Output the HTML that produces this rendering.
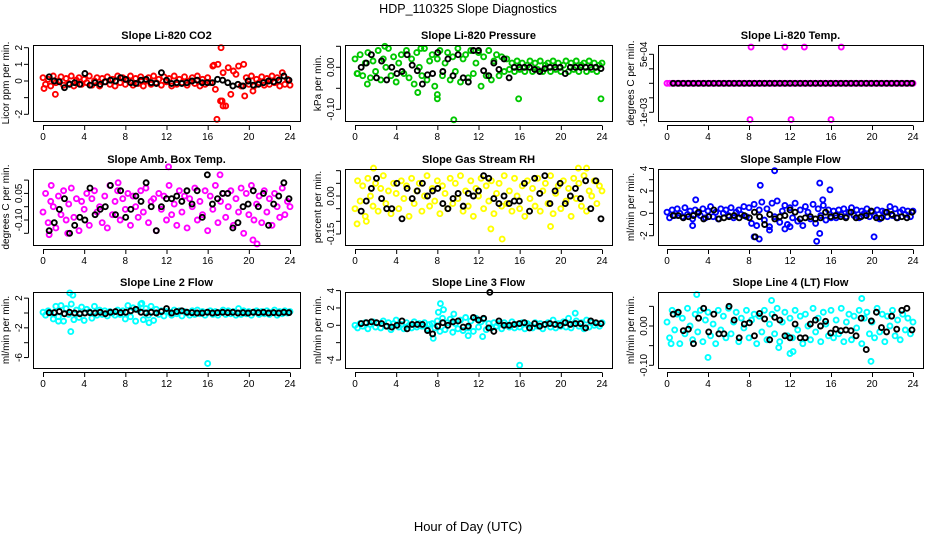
<!DOCTYPE html>
<html><head><meta charset="utf-8"><style>
html,body{margin:0;padding:0;background:#fff;}
svg{display:block;font-family:"Liberation Sans",sans-serif;}
</style></head><body>
<svg id="chart" width="936" height="540" viewBox="0 0 936 540">
<text x="468" y="13" text-anchor="middle" font-size="12.5">HDP_110325  Slope Diagnostics</text>
<text x="468" y="531" text-anchor="middle" font-size="13">Hour of Day (UTC)</text>
<g id="panels"></g>
</svg>
<script>
const xTicks=[0,4,8,12,16,20,24];
const titles=["Slope Li-820 CO2","Slope Li-820 Pressure","Slope Li-820 Temp.","Slope Amb. Box Temp.","Slope Gas Stream RH","Slope Sample Flow","Slope Line 2 Flow","Slope Line 3 Flow","Slope Line 4 (LT) Flow"];
const yLabels=["Licor ppm per min.","kPa per min.","degrees C per min.","degrees C per min.","percent per min.","ml/min per min.","ml/min per min.","ml/min per min.","ml/min per min."];
const colors=["#ff0000","#00c800","#ff00ff","#ff00ff","#ffff00","#0000ff","#00ffff","#00ffff","#00ffff"];
const yTickVals=[[-2,-1,0,1,2],[-0.1,-0.05,0,0.05],[-0.001,-0.0005,0,0.0005,0.001],[-0.1,-0.05,0,0.05,0.1],[-0.15,-0.1,-0.05,0,0.05,0.1],[-2,-1,0,1,2,3,4],[-6,-4,-2,0,2],[-4,-2,0,2,4],[-0.1,-0.05,0,0.05]];
const yTickLabels=[["-2","","0","1","2"],["-0.10","","0.00",""],["-1e-03","","","","5e-04"],["","-0.10","","0.05",""],["-0.15","","","0.00","",""],["-2","","0","","2","","4"],["-6","","-2","","2"],["-4","","0","2","4"],["-0.10","","0.00",""]];
const colVals=[
[0.2,-0.2,0.1,-0.3,0.3,-0.1,0.0,0.25,-0.25,0.15,-0.15,0.3,-0.3,0.05,0.2,-0.2,0.1,-0.1,0.3,-0.25,0.0,0.2,-0.3,0.15,-0.05,0.25,-0.2,0.1,-0.3,0.3,-0.1,0.2,-0.2,0.05,0.3,-0.25,0.15,-0.15,0.25,-0.3,0.0,0.2,-0.2,0.3,-0.1,0.1,-0.25,0.25,-0.05,0.15,-0.3,0.3,-0.2,0.1,-0.1,0.25,-0.25,0.0,0.2,-0.15,0.3,-0.3,0.1,-0.2,0.2,-0.1,0.9,-0.5,1.0,-1.2,0.5,-1.5,0.8,-0.8,0.6,0.4,0.9,-0.3,1.0,0.2,-0.2,0.3,-0.3,0.1,-0.1,0.25,-0.25,0.15,-0.2,0.3,-0.1,0.2,-0.3,0.5,-0.2,0.1,-0.25],
[0.02,-0.015,0.03,-0.02,0.01,0.035,-0.025,0.015,-0.01,0.04,-0.03,0.02,0.0,0.045,-0.02,0.025,-0.035,0.01,0.03,-0.015,0.04,-0.025,0.02,-0.04,0.035,0.0,-0.02,0.045,-0.03,0.015,0.03,-0.045,0.02,0.04,-0.02,0.01,0.035,-0.03,0.025,-0.01,0.045,-0.035,0.02,0.03,-0.025,0.04,-0.015,0.01,0.035,-0.045,0.025,-0.02,0.04,-0.03,0.015,0.03,-0.02,0.025,-0.01,0.02,-0.005,0.01,-0.01,0.015,-0.005,0.01,-0.01,0.005,0.015,-0.01,0.01,-0.005,0.015,-0.01,0.005,0.01,-0.01,0.015,-0.005,0.01,-0.01,0.005,0.015,-0.01,0.01,-0.005,0.015,-0.01,0.005,0.01,-0.01,0.015,-0.005,0.01,-0.01,0.005,0.01],
[0,0,0,0,0,0,0,0,0,0,0,0,0,0,0,0,0,0,0,0,0,0,0,0,0,0,0,0,0,0,0,0,0,0,0,0,0,0,0,0,0,0,0,0,0,0,0,0,0,0,0,0,0,0,0,0,0,0,0,0,0,0,0,0,0,0,0,0,0,0,0,0,0,0,0,0,0,0,0,0,0,0,0,0,0,0,0,0,0,0,0,0,0,0,0,0,0],
[-0.02,0.05,-0.06,0.02,0.0,-0.08,0.04,-0.03,0.06,-0.05,0.01,0.07,-0.04,0.03,-0.09,0.02,-0.01,0.05,-0.07,0.03,0.06,-0.02,0.0,-0.06,0.04,-0.08,0.08,-0.03,0.02,0.06,-0.05,0.03,-0.01,0.05,-0.07,0.04,0.0,-0.04,0.06,-0.02,0.07,-0.06,0.02,0.03,-0.09,0.05,-0.01,0.04,-0.05,0.08,-0.03,0.01,-0.07,0.06,-0.02,0.04,-0.08,0.03,0.0,0.07,-0.05,0.02,-0.03,0.06,-0.09,0.04,-0.01,0.08,-0.06,0.02,0.05,-0.04,0.0,0.06,-0.07,0.03,-0.02,0.07,-0.1,0.05,-0.03,0.08,-0.05,0.01,0.04,-0.06,0.06,-0.02,0.03,-0.07,0.05,0.0,-0.04,0.07,-0.03,0.02,0.0],
[-0.05,0.06,-0.02,0.04,-0.08,0.07,0.0,-0.04,0.05,-0.06,0.03,0.08,-0.03,0.02,-0.07,0.05,0.01,-0.05,0.06,-0.01,0.04,-0.08,0.07,-0.03,0.02,0.05,-0.06,0.0,0.08,-0.04,0.03,-0.02,0.06,-0.07,0.04,0.01,-0.05,0.07,-0.03,0.05,-0.01,0.08,-0.06,0.02,-0.04,0.06,-0.08,0.03,0.0,0.07,-0.05,0.04,-0.02,0.06,-0.07,0.01,0.05,-0.04,0.08,-0.03,0.02,-0.06,0.07,0.0,-0.05,0.04,-0.08,0.06,-0.01,0.03,-0.04,0.07,-0.06,0.02,0.05,-0.03,0.08,-0.07,0.01,0.04,-0.05,0.06,-0.02,0.03,-0.08,0.07,-0.01,0.05,-0.04,0.08,-0.06,0.02,0.0,0.06,-0.03,0.04,0.02],
[0.1,-0.4,0.3,-0.2,0.4,0.0,-0.3,0.5,-0.1,0.2,-0.5,0.3,0.0,-0.2,0.4,-0.4,0.2,0.6,-0.3,0.1,-0.5,0.4,0.0,0.3,-0.2,0.5,-0.4,0.1,0.3,-0.1,0.6,-0.3,0.5,-0.9,0.8,-1.1,0.3,1.0,-0.6,0.4,-1.2,0.9,-0.3,1.1,-0.8,0.2,0.7,-1.0,0.5,-0.4,0.9,-0.7,0.3,-1.1,0.6,0.1,-0.5,0.8,-0.9,0.4,-0.2,0.7,-0.6,0.3,-0.4,0.2,-0.4,0.3,-0.1,0.4,-0.3,0.1,0.5,-0.2,0.3,-0.4,0.2,0.0,0.4,-0.3,0.1,-0.2,0.3,-0.5,0.2,0.1,-0.3,0.6,-0.2,0.4,-0.4,0.1,0.3,-0.1,0.2,-0.3,0.2],
[0.1,-0.3,0.3,0.0,-0.8,0.9,-0.5,1.0,-1.1,0.6,-0.2,1.2,-0.9,0.4,-0.6,0.8,-1.0,0.5,0.2,-0.7,0.9,-0.3,0.4,-0.2,0.3,-0.4,0.2,0.0,-0.3,0.4,-0.2,0.3,-0.8,1.0,-0.5,0.7,-1.1,0.4,1.2,-0.9,0.6,-0.3,0.9,-1.0,0.5,-0.2,0.3,-0.4,0.2,0.1,-0.3,0.4,-0.1,0.3,-0.4,0.2,0.0,-0.3,0.3,-0.2,0.4,-0.1,0.2,-0.3,0.1,0.3,-0.2,0.2,-0.3,0.1,0.4,-0.2,0.3,-0.1,0.2,-0.3,0.6,-0.2,0.3,-0.1,0.2,-0.3,0.1,0.3,-0.2,0.2,-0.1,0.3,-0.2,0.1,0.4,-0.3,0.2,-0.1,0.3,0.0,0.2],
[0.0,-0.3,0.2,-0.1,0.3,-0.4,0.1,0.4,-0.2,0.2,-0.3,0.5,-0.1,0.3,-0.5,0.2,0.6,-0.2,0.1,-0.4,0.3,0.0,-0.3,0.4,-0.2,0.2,-0.1,0.3,-0.4,0.1,0.2,-0.3,0.5,-0.7,0.8,-0.5,0.3,0.7,-0.8,0.2,-0.4,0.6,-0.6,0.9,-0.3,0.5,-0.7,0.8,-0.2,0.4,0.7,-0.5,0.2,-0.3,0.3,-0.1,0.2,-0.4,0.3,0.0,-0.2,0.4,-0.3,0.1,-0.2,0.3,-0.4,0.2,0.0,-0.3,0.3,-0.1,0.2,-0.4,0.1,0.3,-0.2,0.6,-0.3,0.2,-0.1,0.4,-0.2,0.8,-0.3,0.2,0.5,-0.1,0.3,-0.4,0.6,-0.2,0.3,0.0,0.2,-0.1,0.3],
[0.01,-0.03,0.04,-0.01,0.03,-0.045,0.02,-0.02,0.045,0.0,-0.035,0.03,-0.015,0.04,-0.04,0.015,0.035,-0.025,0.005,-0.045,0.04,-0.01,0.025,-0.03,0.045,-0.02,0.01,0.035,-0.04,0.02,-0.005,0.04,-0.03,0.015,0.03,-0.045,0.025,-0.015,0.04,-0.035,0.005,0.03,-0.02,0.045,-0.04,0.01,0.035,-0.025,0.02,-0.03,0.04,-0.01,0.025,-0.045,0.03,0.0,-0.035,0.045,-0.015,0.02,-0.04,0.035,0.005,-0.025,0.04,-0.03,0.015,-0.02,0.045,-0.04,0.01,0.03,-0.035,0.025,-0.005,0.04,-0.045,0.02,0.035,-0.02,0.01,-0.03,0.045,-0.015,0.03,-0.04,0.025,0.0,0.04,-0.025,0.015,-0.035,0.03,-0.01,0.02,-0.02,0.01]
];
const blackVals=[
[0.25,0,-0.05,-0.4,-0.2,-0.1,-0.2,0.45,-0.25,-0.1,-0.2,-0.05,0.05,0,0.2,0.1,-0.1,-0.15,0.05,0.1,-0.1,-0.15,0.5,0.05,-0.15,-0.1,-0.15,-0.1,0,0.05,-0.1,-0.1,-0.1,0.1,0.05,-0.1,-0.3,-0.2,-0.3,0,-0.25,-0.2,-0.1,0,-0.05,0.05,0.3,0.05],
[0.0,0.01,0.03,-0.025,0.015,-0.03,0.0,-0.015,-0.01,0.03,0.005,-0.008,-0.04,-0.018,-0.015,0.035,-0.01,0.02,-0.02,0.03,-0.025,-0.035,0.04,0.04,-0.008,-0.02,0.01,-0.005,0.02,-0.025,0.0,0.0,0.0,0.0,-0.005,-0.01,-0.003,0.0,0.0,0.0,-0.015,0.0,0.0,0.0,0.0,0.0,0.0,-0.003],
[0,0,0,0,0,0,0,0,0,0,0,0,0,0,0,0,0,0,0,0,0,0,0,0,0,0,0,0,0,0,0,0,0,0,0,0,0,0,0,0,0,0,0,0,0,0,0,0],
[-0.09,-0.06,-0.01,0.03,-0.1,-0.07,-0.04,-0.05,0.07,-0.03,-0.01,0.0,0.08,-0.03,0.06,-0.04,-0.01,0.04,0.02,0.09,0.0,-0.09,0.0,0.03,0.03,0.04,0.02,0.06,0.01,0.06,-0.04,0.12,0.01,0.03,0.05,0.05,-0.08,-0.06,0.0,0.01,0.06,0.0,0.05,-0.07,0.01,0.04,0.09,0.03],
[-0.06,-0.02,0.03,0.07,-0.01,-0.05,-0.05,0.05,-0.09,0.03,-0.01,0.02,0.05,0.0,0.02,0.03,-0.03,-0.05,-0.01,0.01,-0.04,0.01,0.0,0.02,0.08,0.07,-0.01,-0.03,0.0,-0.03,-0.02,-0.02,0.05,-0.06,0.07,0.01,0.08,-0.03,0.02,0.05,-0.03,0.0,0.03,-0.01,0.06,-0.05,0.06,-0.09],
[-0.2,-0.2,-0.4,-0.3,-0.2,0.1,-0.5,-0.3,0.3,-0.5,-0.4,-0.3,-0.2,-0.4,-0.2,-0.4,0.1,-0.3,-1.0,-0.1,-0.5,-0.3,-0.2,0.3,0.1,-0.5,-0.4,-0.3,-0.5,-0.4,0.1,-0.3,-0.2,-0.3,-0.4,0.1,-0.4,-0.3,-0.2,0.2,-0.4,-0.4,0.1,-0.1,-0.4,-0.3,-0.4,0.1],
[0.05,0.05,0.2,-0.1,0.1,0.0,-0.1,0.0,0.05,0.0,0.1,-0.1,0.1,0.2,0.05,0.1,0.3,0.5,0.1,0.0,0.1,0.0,0.2,0.6,0.0,0.2,0.3,0.1,0.05,0.0,0.0,0.1,0.0,0.05,0.1,0.05,0.1,0.0,0.05,0.0,0.1,0.05,0.1,0.0,0.05,0.0,0.1,0.05],
[0.2,0.3,0.4,0.3,0.2,-0.1,-0.2,0.0,0.5,-0.4,0.1,0.1,0.1,-0.6,-1.0,-0.1,0.3,0.0,0.4,0.5,-0.2,-0.1,0.9,0.6,0.8,-0.3,-0.7,0.5,0.0,0.0,0.1,0.2,0.3,-0.3,0.2,-0.1,0.1,0.2,0.1,0.0,0.3,0.1,0.2,0.2,-0.3,0.5,0.3,0.2],
[0.03,0.035,-0.012,-0.008,-0.045,0.02,0.045,-0.015,0.03,-0.02,-0.02,0.05,0.015,-0.03,0.005,0.008,-0.025,0.032,0.018,-0.035,0.022,0.015,-0.025,-0.03,0.005,-0.03,-0.03,0.005,0.015,0.0,0.012,-0.018,-0.008,-0.012,-0.01,-0.012,-0.025,0.02,-0.06,0.013,0.035,-0.004,-0.015,0.025,-0.008,0.04,0.045,-0.01]
];
const outlierHours=[
[17.3,16.9,17.5,1.2,0.1,19.6,20.4,17.4,16.6],
[6.1,8.0,8.0,9.6,15.9,23.9,2.9,6.4,0.2,1.2],
[8.2,11.5,13.4,17.0,8.1,12.1,16.0],
[12.2,17.2,20.8,20.4,0.6,2.4,0.8,7.3],
[13.2,14.3,19.0,0.2,1.8,21.7,22.5,1.1],
[10.5,9.1,14.9,15.9,15.2,2.8,8.5,9.0,14.6,14.9,20.2,2.5,10.0,11.5,12.0],
[2.6,2.9,2.7,16.0,1.5,9.6,10.3],
[8.3,8.6,8.1,9.6,7.6,16.0,21.4,11.0,12.4],
[2.9,4.0,19.9,12.0,12.3,10.9,19.0,10.2,0.4]
];
const outlierVals=[
[2.0,-2.3,-1.5,-0.8,-0.45,-0.9,-0.6,-1.2,0.95],
[-0.06,-0.065,-0.075,-0.125,-0.075,-0.075,0.05,0.045,-0.015,-0.04],
[0.00125,0.00125,0.00125,0.00125,-0.00125,-0.00125,-0.00125],
[0.15,0.12,-0.14,-0.125,-0.105,-0.1,0.08,0.09],
[-0.13,-0.17,-0.12,-0.11,0.11,0.11,0.11,-0.1],
[3.8,2.5,2.7,2.1,1.2,1.2,-2.1,-2.3,-2.5,-1.8,-2.1,-1.1,-1.5,-1.4,-1.2],
[2.7,2.4,-2.5,-6.8,-1.1,1.3,-1.3],
[2.5,1.8,1.5,1.3,-1.5,-4.6,1.4,-1.2,-1.3],
[0.08,-0.08,-0.09,-0.07,-0.065,-0.055,0.07,0.065,-0.045]
];
const blackOutHours=[[],[],[],[],[],[8.6],[],[13.1],[]];
const blackOutVals=[[],[],[],[],[],[-2.1],[],[3.8],[]];

// layout (pixels) – not data
const colBox=[[33,300,43,290],[345,612,355,602],[658,923,667,913]];
const rowBox=[[45,121],[169,245],[292,368]];
const yRef=[[2,47.7,-2,114.3],[0,67.3,-0.1,109.3],[0,83.3,0.001,54.3],[0,206.7,-0.1,233.3],[0,196,-0.15,234],[0,213.3,-2,235.7],[0,313,-4,342.7],[0,325.3,-4,360],[0,326,-0.1,365.3]];

const NS="http://www.w3.org/2000/svg";
const root=document.getElementById('panels');
function mk(tag,attrs,parent){const e=document.createElementNS(NS,tag);for(const k in attrs)e.setAttribute(k,attrs[k]);parent.appendChild(e);return e;}

for(let p=0;p<9;p++){
  const c=p%3,r=Math.floor(p/3);
  const [bx0,bx1,x0,x24]=colBox[c];const [by0,by1]=rowBox[r];
  const xs=h=>x0+(x24-x0)*h/24;
  const [v1,p1,v2,p2]=yRef[p];
  const ys=v=>p1+(v-v1)*(p2-p1)/(v2-v1);
  const g=mk('g',{},root);
  
  
  const t=mk('text',{x:(bx0+bx1)/2,y:by0-6,'text-anchor':'middle','font-size':'11','font-weight':'bold'},g);
  t.textContent=titles[p];
  
  
  const yl=mk('text',{x:0,y:0,'text-anchor':'middle','font-size':'10',transform:`translate(${bx0-24},${(by0+by1)/2}) rotate(-90)`},g);
  yl.textContent=yLabels[p];
  
  
  const pts=mk('g',{fill:'none','stroke-width':'1.9'},g);
  
  
  const cv=colVals[p];
  cv.forEach((v,i)=>{const ci=mk('circle',{cx:xs(i*24/(cv.length-1)),cy:ys(v),r:2.5,stroke:colors[p]},pts);
    
    });
  outlierHours[p].forEach((h,i)=>{const ci=mk('circle',{cx:xs(h),cy:ys(outlierVals[p][i]),r:2.5,stroke:colors[p]},pts);
    
    });
  const bv=blackVals[p];
  bv.forEach((v,i)=>{const ci=mk('circle',{cx:xs(0.6+i*23.3/(bv.length-1)),cy:ys(v),r:2.5,stroke:'#000'},pts);
    
    });
  blackOutHours[p].forEach((h,i)=>{const ci=mk('circle',{cx:xs(h),cy:ys(blackOutVals[p][i]),r:2.5,stroke:'#000'},pts);
    
    });
  const b=mk('rect',{x:bx0+0.5,y:by0+0.5,width:bx1-bx0,height:by1-by0,fill:'none',stroke:'#000','stroke-width':'1'},g);
  
  
  const xa=mk('g',{},g);
  
  
  mk('line',{x1:xs(0),x2:xs(24),y1:by1+4.5,y2:by1+4.5,stroke:'#000'},xa);
  xTicks.forEach(h=>{mk('line',{x1:xs(h)+0.5,x2:xs(h)+0.5,y1:by1+4.5,y2:by1+9,stroke:'#000'},xa);
    const tl=mk('text',{x:xs(h),y:by1+19,'text-anchor':'middle','font-size':'10'},xa);tl.textContent=h;
    
    });
  const ya=mk('g',{},g);
  
  
  const tv=yTickVals[p];
  mk('line',{x1:bx0-4.5,x2:bx0-4.5,y1:ys(tv[0]),y2:ys(tv[tv.length-1]),stroke:'#000'},ya);
  tv.forEach((v,i)=>{const y=ys(v);mk('line',{x1:bx0-9,x2:bx0-4.5,y1:y,y2:y,stroke:'#000'},ya);
    if(yTickLabels[p][i]){const tl=mk('text',{x:0,y:0,'text-anchor':'middle','font-size':'10',transform:`translate(${bx0-11},${y}) rotate(-90)`},ya);
      tl.textContent=yTickLabels[p][i];
      
      }});
}
</script>
</body></html>
